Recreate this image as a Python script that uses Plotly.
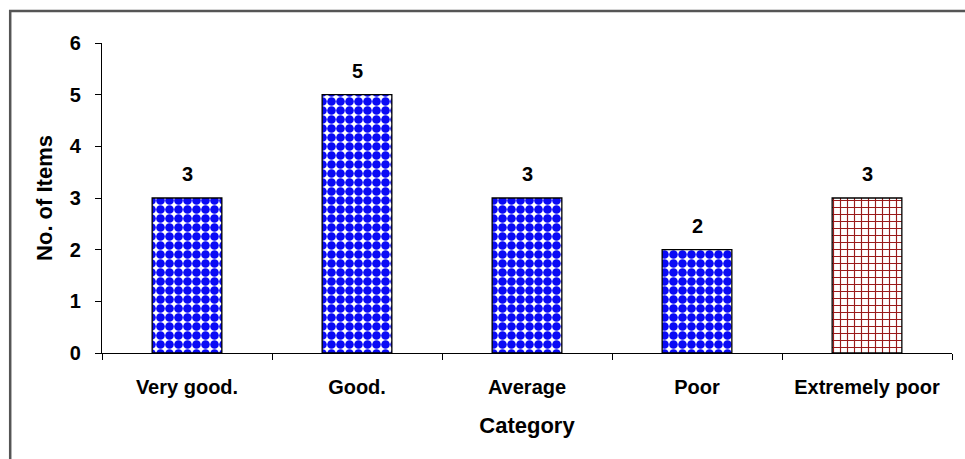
import plotly.graph_objects as go

categories = ["Very good.", "Good.", "Average", "Poor", "Extremely poor"]
values = [3, 5, 3, 2, 3]
y_ticks = [0, 1, 2, 3, 4, 5, 6]

blue_idx = [0, 1, 2, 3]
red_idx = [4]

FONT = "Liberation Sans, Arial, sans-serif"

fig = go.Figure()
fig.add_trace(go.Bar(
    x=[categories[i] for i in blue_idx],
    y=[values[i] for i in blue_idx],
    width=0.41,
    marker=dict(
        color="white",
        line=dict(color="black", width=1.3),
        pattern=dict(shape=".", fgcolor="#0A0AF5", bgcolor="white",
                     size=9, solidity=0.72, fillmode="replace", fgopacity=1),
    ),
    showlegend=False,
))
fig.add_trace(go.Bar(
    x=[categories[i] for i in red_idx],
    y=[values[i] for i in red_idx],
    width=0.41,
    marker=dict(
        color="white",
        line=dict(color="black", width=1.3),
        pattern=dict(shape="+", fgcolor="#9A1A1A", bgcolor="white",
                     size=7, solidity=0.3, fillmode="replace", fgopacity=1),
    ),
    showlegend=False,
))

for c, v in zip(categories, values):
    fig.add_annotation(x=c, y=v, text=f"<b>{v}</b>", showarrow=False,
                       yanchor="bottom", yshift=11,
                       font=dict(family=FONT, size=20, color="black"))

fig.add_shape(type="rect", xref="paper", yref="paper",
              x0=-0.108, x1=1.2, y0=-0.5, y1=1.103,
              line=dict(color="#555555", width=2.5), layer="below")

fig.update_layout(
    width=965, height=459,
    margin=dict(l=102, r=13, t=43, b=106),
    paper_bgcolor="white", plot_bgcolor="white",
    bargap=0.59,
    font=dict(family=FONT, size=20, color="black"),
    xaxis=dict(
        categoryorder="array", categoryarray=categories,
        showline=True, linecolor="black", linewidth=1.3,
        ticks="outside", tickson="boundaries", ticklen=6, tickcolor="black",
        tickfont=dict(family=FONT, size=20),
        ticklabelstandoff=16,
        title=dict(text="<b>Category</b>", font=dict(family=FONT, size=22), standoff=20),
        showgrid=False, zeroline=False,
        tickprefix="<b>", ticksuffix="</b>",
    ),
    yaxis=dict(
        range=[0, 6], tickvals=y_ticks,
        ticktext=[f"<b>{t}</b>" for t in y_ticks],
        showline=True, linecolor="black", linewidth=1.3,
        ticks="outside", ticklen=6, tickcolor="black",
        tickfont=dict(family=FONT, size=20),
        ticklabelstandoff=10,
        title=dict(text="<b>No. of Items</b>", font=dict(family=FONT, size=22), standoff=11),
        showgrid=False, zeroline=False,
    ),
)

fig.write_html("out.html")
